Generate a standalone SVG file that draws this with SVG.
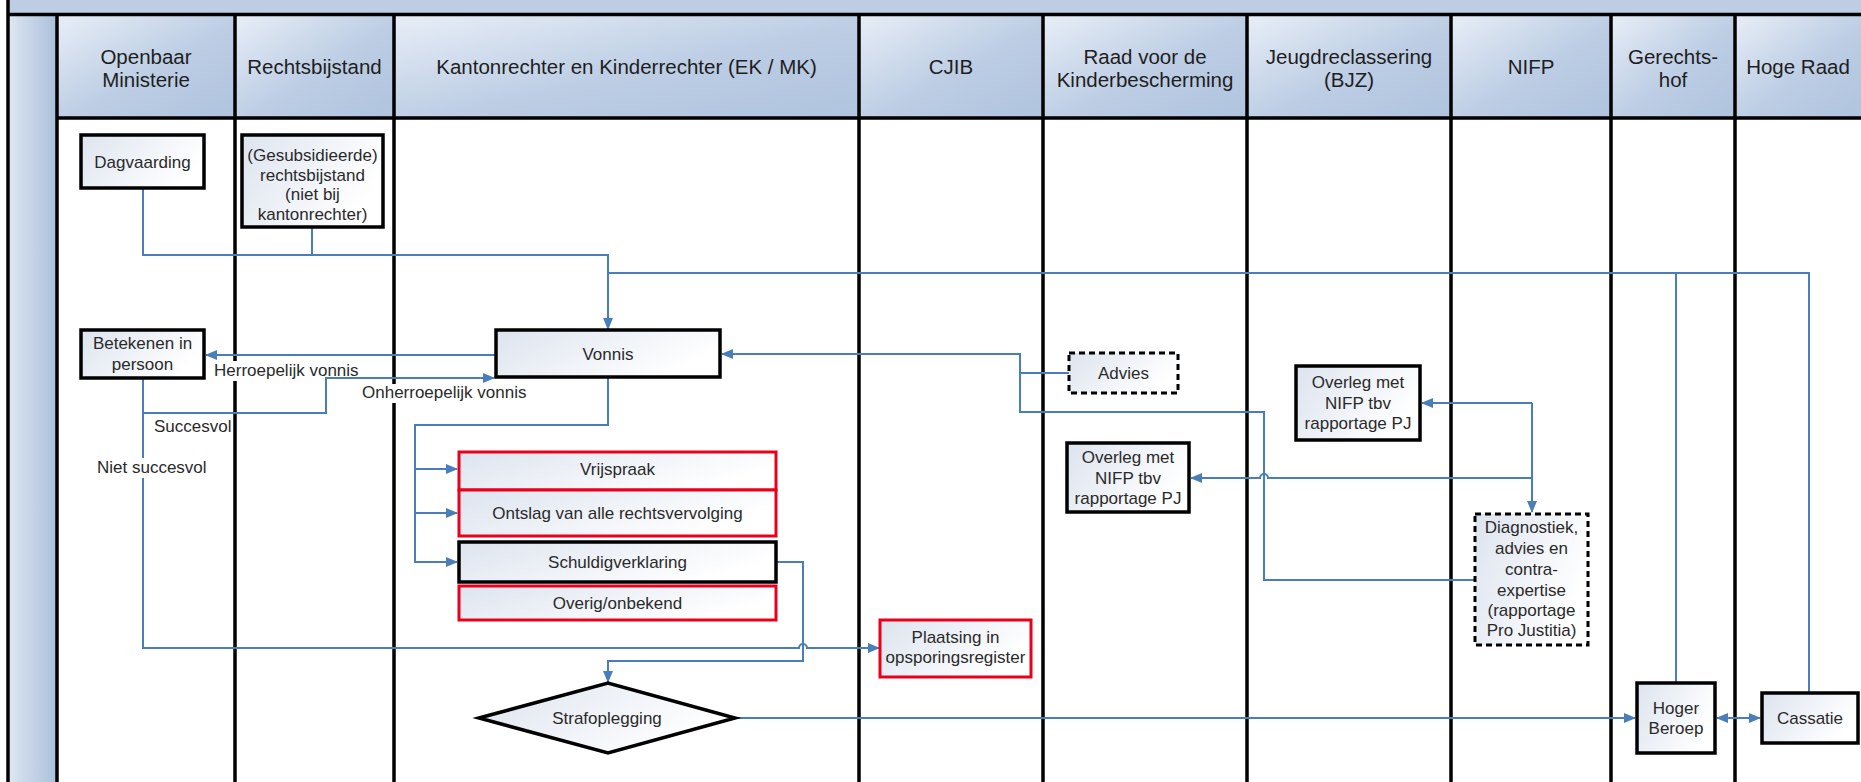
<svg xmlns="http://www.w3.org/2000/svg" width="1861" height="782" viewBox="0 0 1861 782">
<defs>
<linearGradient id="hg" x1="0" y1="0" x2="1" y2="1"><stop offset="0" stop-color="#e8eef7"/><stop offset="0.55" stop-color="#bccde4"/><stop offset="1" stop-color="#b0c4de"/></linearGradient>
<linearGradient id="sg" x1="0" y1="0" x2="1" y2="0"><stop offset="0" stop-color="#dfe7f2"/><stop offset="1" stop-color="#aabfdb"/></linearGradient>
<linearGradient id="bg" x1="0" y1="0" x2="1" y2="0.4"><stop offset="0" stop-color="#dde4ef"/><stop offset="1" stop-color="#ffffff"/></linearGradient>
<marker id="ar" viewBox="0 0 12 10" refX="11" refY="5" markerWidth="12" markerHeight="10" markerUnits="userSpaceOnUse" orient="auto-start-reverse"><path d="M0,0 L12,5 L0,10 z" fill="#4a7ebb"/></marker>
<style>
.lane{stroke:#000;stroke-width:3.5;fill:none}
.hdr{fill:url(#hg)}
.box{fill:url(#bg);stroke:#000;stroke-width:3.5}
.red{fill:url(#bg);stroke:#e8001c;stroke-width:3}
.dash{fill:url(#bg);stroke:#000;stroke-width:3;stroke-dasharray:6 4}
.t{font-family:"Liberation Sans",Arial,sans-serif;font-size:17px;fill:#2a2a2a;text-anchor:middle}
.h{font-size:20.5px;fill:#1e1e1e}
.l{text-anchor:start}
.c{fill:none;stroke:#4a7ebb;stroke-width:2}
.a{marker-end:url(#ar)}
.wb{fill:#fff}
</style>
</defs>
<rect x="0" y="0" width="1861" height="782" fill="#fff"/>
<g id="frame">
<rect x="8" y="0" width="1860" height="14" fill="#bccde4"/>
<rect x="8" y="15" width="49" height="767" fill="url(#sg)"/>
<rect x="57" y="15" width="178" height="103" class="hdr"/>
<rect x="235" y="15" width="159" height="103" class="hdr"/>
<rect x="394" y="15" width="465" height="103" class="hdr"/>
<rect x="859" y="15" width="184" height="103" class="hdr"/>
<rect x="1043" y="15" width="204" height="103" class="hdr"/>
<rect x="1247" y="15" width="204" height="103" class="hdr"/>
<rect x="1451" y="15" width="160" height="103" class="hdr"/>
<rect x="1611" y="15" width="124" height="103" class="hdr"/>
<rect x="1735" y="15" width="130" height="103" class="hdr"/>
<path class="lane" d="M8,0 V782 M8,14.5 H1861 M57,15 V782 M57,118 H1861 M235,15 V782 M394,15 V782 M859,15 V782 M1043,15 V782 M1247,15 V782 M1451,15 V782 M1611,15 V782 M1735,15 V782"/>
<text class="t h" x="146" y="64">Openbaar</text>
<text class="t h" x="146" y="87">Ministerie</text>
<text class="t h" x="314.5" y="74">Rechtsbijstand</text>
<text class="t h" x="626.5" y="74">Kantonrechter en Kinderrechter (EK / MK)</text>
<text class="t h" x="951" y="74">CJIB</text>
<text class="t h" x="1145" y="64">Raad voor de</text>
<text class="t h" x="1145" y="87">Kinderbescherming</text>
<text class="t h" x="1349" y="64">Jeugdreclassering</text>
<text class="t h" x="1349" y="87">(BJZ)</text>
<text class="t h" x="1531" y="74">NIFP</text>
<text class="t h" x="1673" y="64">Gerechts-</text>
<text class="t h" x="1673" y="87">hof</text>
<text class="t h" x="1798" y="74">Hoge Raad</text>
</g>
<g id="connectors">
<path class="c a" d="M143,188 V255 H608 V329"/>
<path class="c" d="M312,227 V255"/>
<path class="c" d="M1676,683 V273 H608"/>
<path class="c" d="M1809,693 V273 H1676"/>
<path class="c a" d="M496,355 H206"/>
<rect class="wb" x="212" y="361" width="148" height="20"/>
<path class="c a" d="M143,378 V413 H326 V378 H494"/>
<rect class="wb" x="360" y="384" width="168" height="19"/>
<path class="c a" d="M143,413 V648 H799 A4,4 0 0 1 807,648 H879"/>
<rect class="wb" x="95" y="458" width="115" height="20"/>
<path class="c a" d="M608,377 V425 H415 V562 H457"/>
<path class="c a" d="M415,469 H457"/>
<path class="c a" d="M415,513 H457"/>
<path class="c a" d="M776,562 H803 V661 H608 V682"/>
<path class="c a" d="M736,718 H1635"/>
<path class="c a" d="M1717,718 H1760" style="marker-start:url(#ar)"/>
<path class="c" d="M1069,373 H1020"/>
<path class="c a" d="M1475,580 H1264 V412 H1020 V354 H722"/>
<path class="c a" d="M1532,403 V512"/>
<path class="c a" d="M1532,403 H1422"/>
<path class="c a" d="M1532,478 H1268 A4,4 0 0 0 1260,478 H1191"/>
<text class="t l" x="214" y="376">Herroepelijk vonnis</text>
<text class="t l" x="362" y="398">Onherroepelijk vonnis</text>
<text class="t l" x="154" y="432">Succesvol</text>
<text class="t l" x="97" y="473">Niet succesvol</text>
</g>
<g id="dagvaarding"><rect class="box" x="81" y="135" width="123" height="53"/><text class="t" x="142.5" y="168">Dagvaarding</text></g>
<g id="rechtsbijstand"><rect class="box" x="242" y="135" width="141" height="92"/><text class="t" x="312.5" y="161">(Gesubsidieerde)</text><text class="t" x="312.5" y="180.5">rechtsbijstand</text><text class="t" x="312.5" y="200">(niet bij</text><text class="t" x="312.5" y="219.5">kantonrechter)</text></g>
<g id="betekenen"><rect class="box" x="81" y="330" width="123" height="48"/><text class="t" x="142.5" y="349">Betekenen in</text><text class="t" x="142.5" y="370">persoon</text></g>
<g id="vonnis"><rect class="box" x="496" y="330" width="224" height="47"/><text class="t" x="608" y="360">Vonnis</text></g>
<g id="vrijspraak"><rect class="red" x="459" y="452" width="317" height="38"/><text class="t" x="617.5" y="475">Vrijspraak</text></g>
<g id="ontslag"><rect class="red" x="459" y="490" width="317" height="46"/><text class="t" x="617.5" y="519">Ontslag van alle rechtsvervolging</text></g>
<g id="schuldigverklaring"><rect class="box" x="459" y="542" width="317" height="40"/><text class="t" x="617.5" y="568">Schuldigverklaring</text></g>
<g id="overig"><rect class="red" x="459" y="586" width="317" height="34"/><text class="t" x="617.5" y="609">Overig/onbekend</text></g>
<g id="strafoplegging"><polygon class="box" points="479,718 608,683 735,718 608,753"/><text class="t" x="607" y="724">Strafoplegging</text></g>
<g id="plaatsing"><rect class="red" x="880" y="620" width="151" height="57"/><text class="t" x="955.5" y="643">Plaatsing in</text><text class="t" x="955.5" y="663">opsporingsregister</text></g>
<g id="advies"><rect class="dash" x="1069" y="353" width="109" height="40"/><text class="t" x="1123.5" y="379">Advies</text></g>
<g id="overleg-raad"><rect class="box" x="1067" y="443" width="122" height="69"/><text class="t" x="1128" y="463">Overleg met</text><text class="t" x="1128" y="484">NIFP tbv</text><text class="t" x="1128" y="504">rapportage PJ</text></g>
<g id="overleg-jeugd"><rect class="box" x="1296" y="366" width="124" height="74"/><text class="t" x="1358" y="388">Overleg met</text><text class="t" x="1358" y="409">NIFP tbv</text><text class="t" x="1358" y="429">rapportage PJ</text></g>
<g id="diagnostiek"><rect class="dash" x="1475" y="514" width="113" height="131"/><text class="t" x="1531.5" y="533">Diagnostiek,</text><text class="t" x="1531.5" y="554">advies en</text><text class="t" x="1531.5" y="575">contra-</text><text class="t" x="1531.5" y="596">expertise</text><text class="t" x="1531.5" y="616">(rapportage</text><text class="t" x="1531.5" y="636">Pro Justitia)</text></g>
<g id="hoger-beroep"><rect class="box" x="1637" y="683" width="78" height="70"/><text class="t" x="1676" y="714">Hoger</text><text class="t" x="1676" y="734">Beroep</text></g>
<g id="cassatie"><rect class="box" x="1762" y="693" width="96" height="50"/><text class="t" x="1810" y="724">Cassatie</text></g>
</svg>
